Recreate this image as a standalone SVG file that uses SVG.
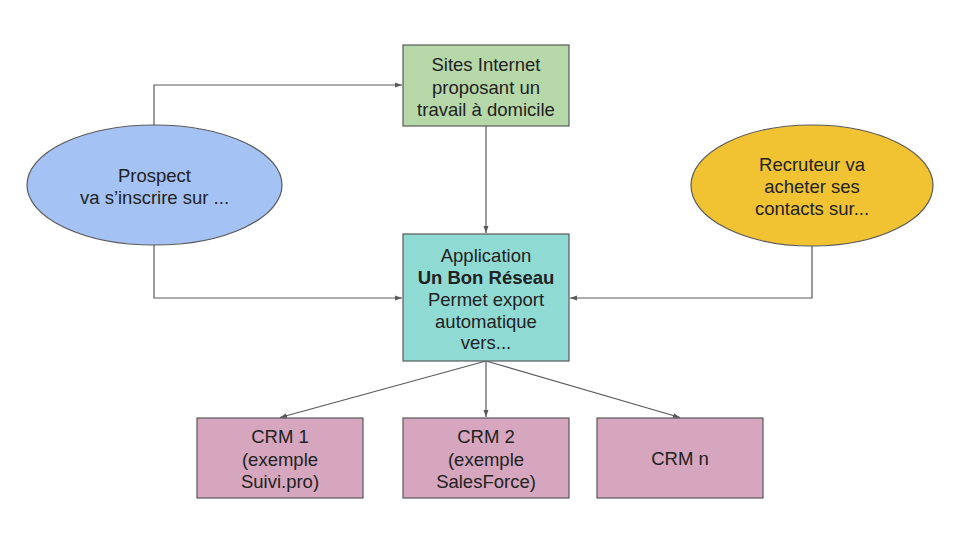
<svg xmlns="http://www.w3.org/2000/svg" width="960" height="540" viewBox="0 0 960 540">
<style>
.shape{stroke:#595959;stroke-width:1.2}
.t{font-family:"Liberation Sans",Arial,sans-serif;font-size:18.5px;fill:#222;text-anchor:middle}
.b{font-weight:bold}
.c{fill:none;stroke:#595959;stroke-width:1.2}
</style>
<defs>
<marker id="ah" markerWidth="8" markerHeight="8" refX="7" refY="4" orient="auto" markerUnits="userSpaceOnUse">
<path d="M0,1.5 L7,4 L0,6.5 Z" fill="#595959"/>
</marker>
</defs>
<rect width="960" height="540" fill="#ffffff"/>
<g id="connectors">
<polyline class="c" points="154,125 154,85 402,85" marker-end="url(#ah)"/>
<polyline class="c" points="154,245 154,298 402,298" marker-end="url(#ah)"/>
<polyline class="c" points="812,246 812,298 570,298" marker-end="url(#ah)"/>
<line class="c" x1="486" y1="126" x2="486" y2="233" marker-end="url(#ah)"/>
<line class="c" x1="486" y1="361" x2="280" y2="417.5" marker-end="url(#ah)"/>
<line class="c" x1="486" y1="361" x2="486" y2="417" marker-end="url(#ah)"/>
<line class="c" x1="486" y1="361" x2="680" y2="417.5" marker-end="url(#ah)"/>
</g>
<g id="sites">
<rect class="shape" x="403" y="45" width="166" height="81" fill="#b6d7a8"/>
<text class="t" x="486" y="71">Sites Internet</text>
<text class="t" x="486" y="93.5">proposant un</text>
<text class="t" x="486" y="116">travail à domicile</text>
</g>
<g id="prospect">
<ellipse class="shape" cx="154.5" cy="185" rx="127.5" ry="60" fill="#a4c2f4"/>
<text class="t" x="154.5" y="182">Prospect</text>
<text class="t" x="154.5" y="203.5">va s’inscrire sur ...</text>
</g>
<g id="recruteur">
<ellipse class="shape" cx="812" cy="185.5" rx="121" ry="60.5" fill="#f1c232"/>
<text class="t" x="812" y="171">Recruteur va</text>
<text class="t" x="812" y="193">acheter ses</text>
<text class="t" x="812" y="215">contacts sur...</text>
</g>
<g id="application">
<rect class="shape" x="403" y="234" width="166" height="127" fill="#8fdbd4"/>
<text class="t" x="486" y="262">Application</text>
<text class="t b" x="486" y="284">Un Bon Réseau</text>
<text class="t" x="486" y="306">Permet export</text>
<text class="t" x="486" y="327.5">automatique</text>
<text class="t" x="486" y="349">vers...</text>
</g>
<g id="crm1">
<rect class="shape" x="197" y="418" width="166" height="80" fill="#d5a6bd"/>
<text class="t" x="280" y="443">CRM 1</text>
<text class="t" x="280" y="465.5">(exemple</text>
<text class="t" x="280" y="488">Suivi.pro)</text>
</g>
<g id="crm2">
<rect class="shape" x="403" y="418" width="166" height="80" fill="#d5a6bd"/>
<text class="t" x="486" y="443">CRM 2</text>
<text class="t" x="486" y="465.5">(exemple</text>
<text class="t" x="486" y="488">SalesForce)</text>
</g>
<g id="crmn">
<rect class="shape" x="597" y="418" width="166" height="80" fill="#d5a6bd"/>
<text class="t" x="680" y="465">CRM n</text>
</g>
</svg>
